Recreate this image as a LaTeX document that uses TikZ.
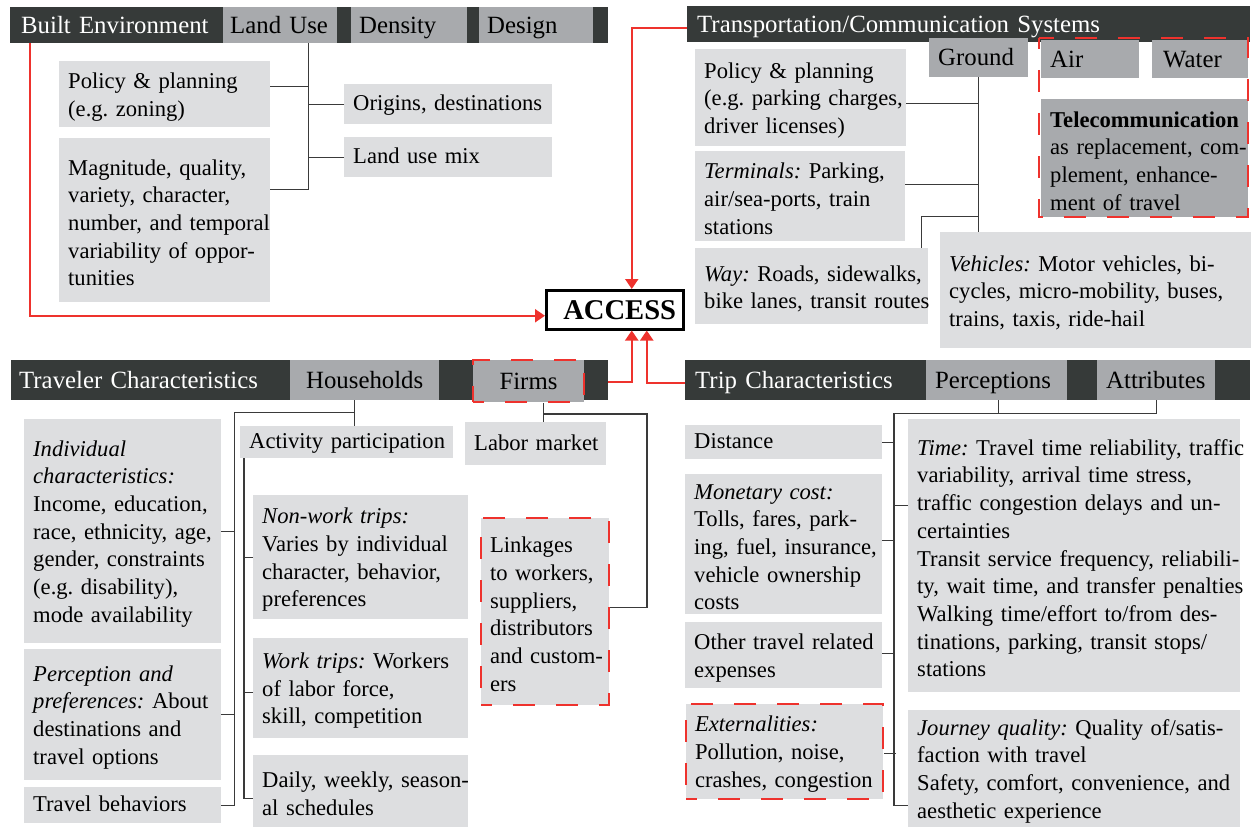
\documentclass[tikz,border=0pt]{standalone}
\usepackage{fontspec}
\setmainfont{Liberation Serif}
\usetikzlibrary{arrows.meta}
\frenchspacing

\definecolor{bardark}{RGB}{54,58,57}
\definecolor{tabgray}{RGB}{168,170,173}
\definecolor{boxgray}{RGB}{221,222,224}
\definecolor{linkred}{RGB}{238,50,45}
\definecolor{treegray}{RGB}{58,58,58}

\newcommand\itemfont{\fontsize{22.6}{27.7}\selectfont\def\nodestrut{\rule[-8pt]{0pt}{29pt}}}
\newcommand\headfont{\fontsize{24.8}{29}\selectfont\def\nodestrut{\rule[-7pt]{0pt}{30pt}}}
\newcommand\accfont{\fontsize{28.6}{32}\selectfont\bfseries\let\nodestrut\relax}

\tikzset{
	pad/.style={execute at begin node={\leftskip=#1pt\rightskip=-8pt plus 1fil\relax\nodestrut}},
	sz/.style 2 args={text width=#1pt, minimum height=#2pt},
	itembox/.style={fill=boxgray, anchor=north west, inner sep=0pt, font=\itemfont, pad=9},
	headbar/.style={fill=bardark, text=white, anchor=north west, inner sep=0pt, font=\headfont},
	subtab/.style={fill=tabgray, anchor=north west, inner sep=0pt, font=\headfont},
	ctab/.style={subtab, execute at begin node=\nodestrut},
	redline/.style={draw=linkred, line width=2pt},
	tolink/.style={redline, -{Triangle[width=13pt,length=10pt]}},
	redframe/.style={draw=linkred, line width=2pt, dash pattern=on 22pt off 21pt, dash phase=11pt},
	treeline/.style={draw=treegray, line width=1.3pt}
}

\begin{document}
\begin{tikzpicture}[x=1pt, y=-1pt]
	\useasboundingbox (0,0) rectangle (1253,829);

	\node [headbar, sz={598}{36}, pad=11] (be) at (10,7) {Built Environment};
	\node [subtab, sz={114}{36}, pad=7] (landuse) at (223,7) {Land Use};
	\node [subtab, sz={116}{36}, pad=8] (density) at (351,7) {Density};
	\node [subtab, sz={114}{36}, pad=8] (design) at (479,7) {Design};
	\node [itembox, sz={211}{66}] (bepol) at (59,61) {Policy \& planning\\(e.g. zoning)};
	\node [itembox, sz={211}{164}] (bemag) at (59,138) {Magnitude, quality,\\variety, character,\\number, and temporal\\variability of oppor-\\tunities};
	\node [itembox, sz={208}{40}] (orig) at (344,84) {Origins, destinations};
	\node [itembox, sz={208}{40}] (mix) at (344,137) {Land use mix};
	\coordinate (luc) at ([xshift=28pt]landuse.south);
	\draw [treeline] (luc) |- ([yshift=31pt]bemag.east);
	\draw [treeline] ([yshift=8pt]bepol.east) -| (luc);
	\draw [treeline] (orig.west) -| (luc);
	\draw [treeline] (mix.west) -| (luc);

	\node [headbar, sz={563}{36}, pad=10] (tcs) at (687,6) {Transportation/Communication Systems};
	\node [subtab, sz={99}{39}, pad=9] (ground) at (929,38) {Ground};
	\node [subtab, sz={98}{38}, pad=9] (air) at (1041,40) {Air};
	\node [subtab, sz={96}{38}, pad=11] (water) at (1152,40) {Water};
	\node [itembox, fill=tabgray, sz={207}{118}] (tele) at (1041,99) {\textbf{Telecommunication}\\as replacement, com-\\plement, enhance-\\ment of travel};
	\draw [redframe] ([xshift=-2pt,yshift=2pt]air.north west) rectangle (tele.south east);
	\node [itembox, sz={211}{97}] (tcpol) at (695,49) {Policy \& planning\\(e.g. parking charges,\\driver licenses)};
	\node [itembox, sz={210}{90}] (term) at (695,151) {\textit{Terminals:} Parking,\\air/sea-ports, train\\stations};
	\node [itembox, sz={233}{76}] (way) at (695,248) {\textit{Way:} Roads, sidewalks,\\bike lanes, transit routes};
	\node [itembox, sz={311}{116}] (veh) at (940,232) {\textit{Vehicles:} Motor vehicles, bi-\\cycles, micro-mobility, buses,\\trains, taxis, ride-hail};
	\draw [treeline] (ground.south) -- (ground.south |- veh.north);
	\draw [treeline] ([yshift=-6pt]tcpol.east) -| (ground.south);
	\draw [treeline] ([yshift=12pt]term.east) -| (ground.south);
	\draw [treeline] ([xshift=110pt]way.north) |- ([yshift=-139pt]ground.south);

	\node [draw=black, line width=2.5pt, fill=white, anchor=north west, inner sep=0pt, font=\accfont, sz={137}{39}, pad=17] (access) at (545,289) {ACCESS};
	\draw [tolink] ([xshift=20pt]be.south west) |- ([yshift=-6pt]access.west);
	\draw [tolink] ([yshift=-4pt]tcs.west) -| ([xshift=17pt]access.north);

	\node [headbar, sz={597}{40}, pad=8] (trav) at (11,360) {Traveler Characteristics};
	\node [ctab, minimum width=149pt, minimum height=40pt] (hh) at (290,360) {Households};
	\node [ctab, redframe, minimum width=111pt, minimum height=42pt] (firms) at (472,359) {Firms};
	\node [itembox, sz={197}{224}] (indiv) at (24,419) {\textit{Individual}\\\textit{characteristics:}\\Income, education,\\race, ethnicity, age,\\gender, constraints\\(e.g. disability),\\mode availability};
	\node [itembox, sz={197}{131}] (percp) at (24,649) {\textit{Perception and}\\\textit{preferences:} About\\destinations and\\travel options};
	\node [itembox, sz={197}{36}] (travb) at (24,787) {Travel behaviors};
	\node [itembox, sz={213}{32}] (actp) at (240,426) {Activity participation};
	\node [itembox, sz={215}{124}] (nonwork) at (253,495) {\textit{Non-work trips:}\\Varies by individual\\character, behavior,\\preferences};
	\node [itembox, sz={215}{100}] (worktr) at (253,638) {\textit{Work trips:} Workers\\of labor force,\\skill, competition};
	\node [itembox, sz={215}{72}] (daily) at (253,755) {Daily, weekly, season-\\al schedules};
	\node [itembox, sz={141}{43}] (labor) at (465,422) {Labor market};
	\node [itembox, redframe, sz={128}{187}] (linkage) at (480,517) {Linkages\\to workers,\\suppliers,\\distributors\\and custom-\\ers};
	\coordinate (hhc) at ([xshift=-10pt]hh.south);
	\draw [treeline] (hhc) -- (hhc |- actp.north);
	\draw [treeline] ([yshift=-12pt]hhc) -| ([xshift=13pt]travb.east) -- (travb.east);
	\draw [treeline] (indiv.east) -- ++(13,0);
	\draw [treeline] (percp.east) -- ++(13,0);
	\draw [treeline] ([xshift=4pt]actp.south west) |- ([yshift=-7pt]daily.west);
	\draw [treeline] (nonwork.west) -- ++(-9,0);
	\draw [treeline] ([yshift=-4pt]worktr.west) -- ++(-9,0);
	\coordinate (fmc) at ([xshift=15pt]firms.south);
	\draw [treeline] (fmc) -- (fmc |- labor.north);
	\draw [treeline] ([yshift=-11pt]fmc) -| ([xshift=37pt,yshift=4pt]linkage.east) -- ([yshift=4pt]linkage.east);
	\draw [tolink] ([yshift=-2pt]trav.east) -| ([xshift=17pt]access.south);

	\node [headbar, sz={565}{40}, pad=10] (trip) at (685,360) {Trip Characteristics};
	\node [subtab, sz={141}{40}, pad=9] (percs) at (926,360) {Perceptions};
	\node [subtab, sz={118}{40}, pad=9] (attr) at (1097,360) {Attributes};
	\node [itembox, sz={197}{34}] (dist) at (685,425) {Distance};
	\node [itembox, sz={197}{140}] (money) at (685,474) {\textit{Monetary cost:}\\Tolls, fares, park-\\ing, fuel, insurance,\\vehicle ownership\\costs};
	\node [itembox, sz={197}{66}] (othexp) at (685,622) {Other travel related\\expenses};
	\node [itembox, redframe, sz={197}{95}] (extern) at (685,703) {\textit{Externalities:}\\Pollution, noise,\\crashes, congestion};
	\node [itembox, sz={332}{273}] (ttime) at (908,419) {\textit{Time:} Travel time reliability, traffic\\variability, arrival time stress,\\traffic congestion delays and un-\\certainties\\Transit service frequency, reliabili-\\ty, wait time, and transfer penalties\\Walking time/effort to/from des-\\tinations, parking, transit stops/\\stations};
	\node [itembox, sz={332}{117}] (journey) at (908,710) {\textit{Journey quality:} Quality of/satis-\\faction with travel\\Safety, comfort, convenience, and\\aesthetic experience};
	\coordinate (atc) at ([yshift=-13pt]attr.south);
	\draw [treeline] (attr.south) -- (atc) -| ([xshift=-14pt,yshift=-37pt]journey.west) -- ([yshift=-37pt]journey.west);
	\draw [treeline] ([xshift=2pt]percs.south) -- ++(0,13);
	\draw [treeline] ([yshift=50pt]ttime.west) -- ++(-14,0);
	\draw [treeline] (dist.east) -- ++(12,0);
	\draw [treeline] ([yshift=4pt]money.east) -- ++(12,0);
	\draw [treeline] ([yshift=2pt]othexp.east) -- ++(12,0);
	\draw [treeline] ([yshift=-2pt]extern.east) -- ++(12,0);
	\draw [tolink] ([yshift=-3pt]trip.west) -| ([xshift=32pt]access.south);
\end{tikzpicture}
\end{document}
